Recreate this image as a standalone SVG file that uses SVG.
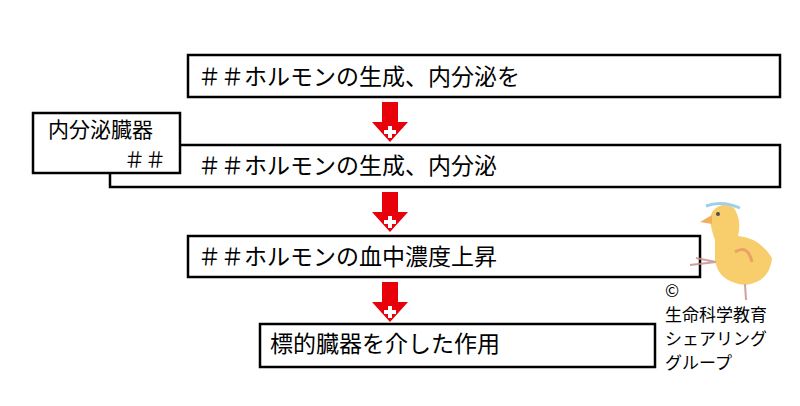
<svg xmlns="http://www.w3.org/2000/svg" width="800" height="406" viewBox="0 0 800 406">
<style>
.b{fill:#fff;stroke:#000;stroke-width:2.5}
.t{font-family:"Noto Sans CJK JP","Liberation Sans",sans-serif;font-size:23px;fill:#000}
.s{font-family:"Noto Sans CJK JP","Liberation Sans",sans-serif;font-size:21px;fill:#000}
.c{font-family:"Noto Sans CJK JP","Liberation Sans",sans-serif;font-size:17px;fill:#000}
</style>
<defs>
<g id="arr"><path d="M-8,0 H8 V20 H18 L0,40 L-18,20 H-8 Z" fill="#e8000b"/><path d="M-2,24 H2 V28 H6 V32 H2 V36 H-2 V32 H-6 V28 H-2 Z" fill="#fff"/></g>
</defs>
<g id="connectors">
<use href="#arr" x="390" y="102"/>
<use href="#arr" x="390" y="192"/>
<use href="#arr" x="390" y="282"/>
</g>
<g id="n1"><rect class="b" x="188" y="55" width="592" height="42"/><text class="t" x="198" y="85">＃＃ホルモンの生成、内分泌を</text></g>
<g id="n2"><rect class="b" x="110" y="145" width="670" height="42"/><text class="t" x="198" y="174">＃＃ホルモンの生成、内分泌</text></g>
<g id="n0"><rect class="b" x="33" y="113" width="147" height="60"/><text class="s" x="48" y="137">内分泌臓器</text><text class="s" x="124" y="167">＃＃</text></g>
<g id="n3"><rect class="b" x="188" y="236" width="512" height="41"/><text class="t" x="198" y="265">＃＃ホルモンの血中濃度上昇</text></g>
<g id="n4"><rect class="b" x="260" y="324" width="395" height="43"/><text class="t" x="270" y="352">標的臓器を介した作用</text></g>
<g id="chick" opacity="0.85">
<path d="M715,240 Q708,222 712,212 Q722,200 734,208 Q742,220 738,236 Q760,238 772,258 Q770,282 745,285 Q718,282 715,260 Z" fill="#f7c653"/>
<path d="M712,215 L700,222 L712,224 Z" fill="#f0a040"/>
<circle cx="718" cy="214" r="2" fill="#333"/>
<path d="M706,206 Q722,200 740,208" stroke="#8cc8e8" stroke-width="3" fill="none"/>
<path d="M735,252 Q748,244 752,262" stroke="#e89050" stroke-width="3" fill="none"/>
<path d="M716,262 L690,265 M716,262 L696,258" stroke="#c89090" stroke-width="2" fill="none"/>
<path d="M745,284 L746,300" stroke="#c89090" stroke-width="2"/>
</g>
<g id="credit"><text class="c" x="665" y="297">©</text><text class="c" x="665" y="321">生命科学教育</text><text class="c" x="665" y="345">シェアリング</text><text class="c" x="665" y="369">グループ</text></g>
</svg>
